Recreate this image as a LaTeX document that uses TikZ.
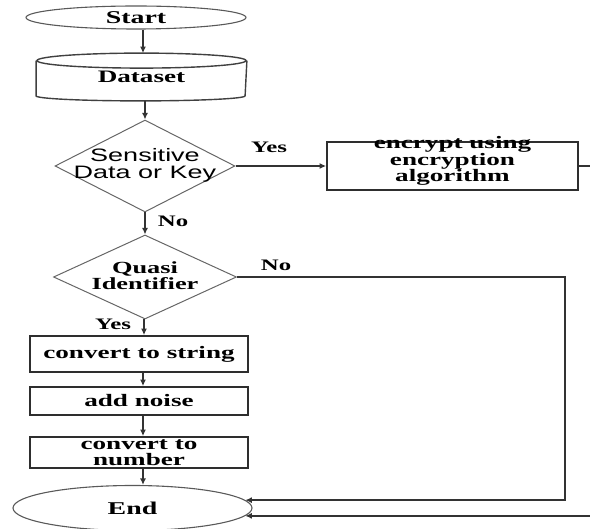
\documentclass[tikz,border=0pt]{standalone}
\usepackage{fontspec}
\usetikzlibrary{shapes.geometric,arrows.meta}
\setmainfont{Liberation Serif}[FakeStretch=1.55]
\newfontfamily\widesans{Liberation Sans}[FakeStretch=1.5]

\tikzset{
  flowline/.style={draw=black!80, line width=1.3pt},
  arr/.style={flowline, -{Latex[length=6.5pt,width=6pt]}},
  oval/.style={ellipse, draw=black!65, line width=1.1pt, inner sep=0pt,
    font=\bfseries\fontsize{18}{18}\selectfont},
  procbox/.style={rectangle, draw=black!82, line width=1.8pt, inner sep=0pt,
    align=center, font=\bfseries\fontsize{17.5}{16}\selectfont},
  decision/.style={diamond, draw=black!60, line width=1pt, inner sep=0pt},
  dtext/.style={inner sep=0pt, align=center},
  branch/.style={inner sep=0pt, anchor=base,
    font=\bfseries\fontsize{16}{16}\selectfont},
  cylline/.style={draw=black!75, line width=1.4pt},
}

\begin{document}
\begin{tikzpicture}[x=1pt,y=1pt]
  \useasboundingbox (0,0) rectangle (590,-529);

  % columns used by the vertical connectors
  \coordinate (colA) at (143,0);
  \coordinate (colB) at (144,0);

  % terminals
  \node[oval, minimum width=220pt, minimum height=23pt] (start) at (136,-17.5) {Start};
  \node[oval, minimum width=239pt, minimum height=45pt] (finish) at (132.5,-508) {End};

  % data store drawn as a cylinder around its text
  \node[procbox, draw=none, minimum width=209pt, minimum height=46pt] (data) at (141.5,-77) {Dataset};
  \draw[cylline] ([yshift=-7.5pt]data.north) ellipse [x radius=104.5pt, y radius=7.5pt];
  \draw[cylline] ([yshift=-7.5pt]data.north west) -- ([yshift=5pt]data.south west)
    arc[start angle=180, end angle=360, x radius=104.5pt, y radius=5pt]
    -- ([yshift=-7.5pt]data.north east);

  % decisions
  \node[decision, minimum width=180pt, minimum height=92pt] (sens) at (145,-166) {};
  \node[dtext, font=\widesans\fontsize{18}{17}\selectfont] (sens-t) at (145,-165) {Sensitive\\Data or Key};
  \node[decision, minimum width=183pt, minimum height=84pt] (quasi) at (145,-277) {};
  \node[dtext, font=\bfseries\fontsize{17}{16}\selectfont] (quasi-t) at (145,-276) {Quasi\\Identifier};

  % processes
  \node[procbox, minimum width=251pt, minimum height=48pt] (enc) at (452.5,-166) {};
  \node[dtext, font=\bfseries\fontsize{17.5}{16}\selectfont] (enc-t) at (452.5,-161) {encrypt using\\encryption\\algorithm};
  \node[procbox, minimum width=218pt, minimum height=36pt] (cs) at (139,-354) {convert to string};
  \node[procbox, minimum width=218pt, minimum height=28pt] (noise) at (139,-401) {add noise};
  \node[procbox, minimum width=218pt, minimum height=31pt] (num) at (139,-452.5) {convert to\\number};

  % branch labels
  \node[branch] (yes1) at (269,-153) {Yes};
  \node[branch] (no1) at (173,-227) {No};
  \node[branch] (no2) at (276,-271) {No};
  \node[branch] (yes2) at (113,-330) {Yes};

  % return paths run along the right-hand side
  \coordinate (encturn) at (606,-300);
  \coordinate (quasiturn) at (565,-400);

  % connectors
  \draw[arr] (start.south -| colA) -- (data.north -| colA);
  \draw[arr] (data.south -| sens.north) -- (sens.north);
  \draw[arr] (sens.east) -- (enc.west);
  \draw[arr] (sens.south) -- (quasi.north);
  \draw[arr] (quasi.south -| colB) -- (cs.north -| colB);
  \draw[arr] (cs.south -| colA) -- (noise.north -| colA);
  \draw[arr] (noise.south -| colA) -- (num.north -| colA);
  \draw[arr] (num.south -| colA) -- (finish.north -| colA);
  \draw[arr] (quasi.east) -| (quasiturn) |- (finish.4.7);
  \draw[arr] (enc.east) -| (encturn) |- (finish.-4.1);
\end{tikzpicture}
\end{document}
